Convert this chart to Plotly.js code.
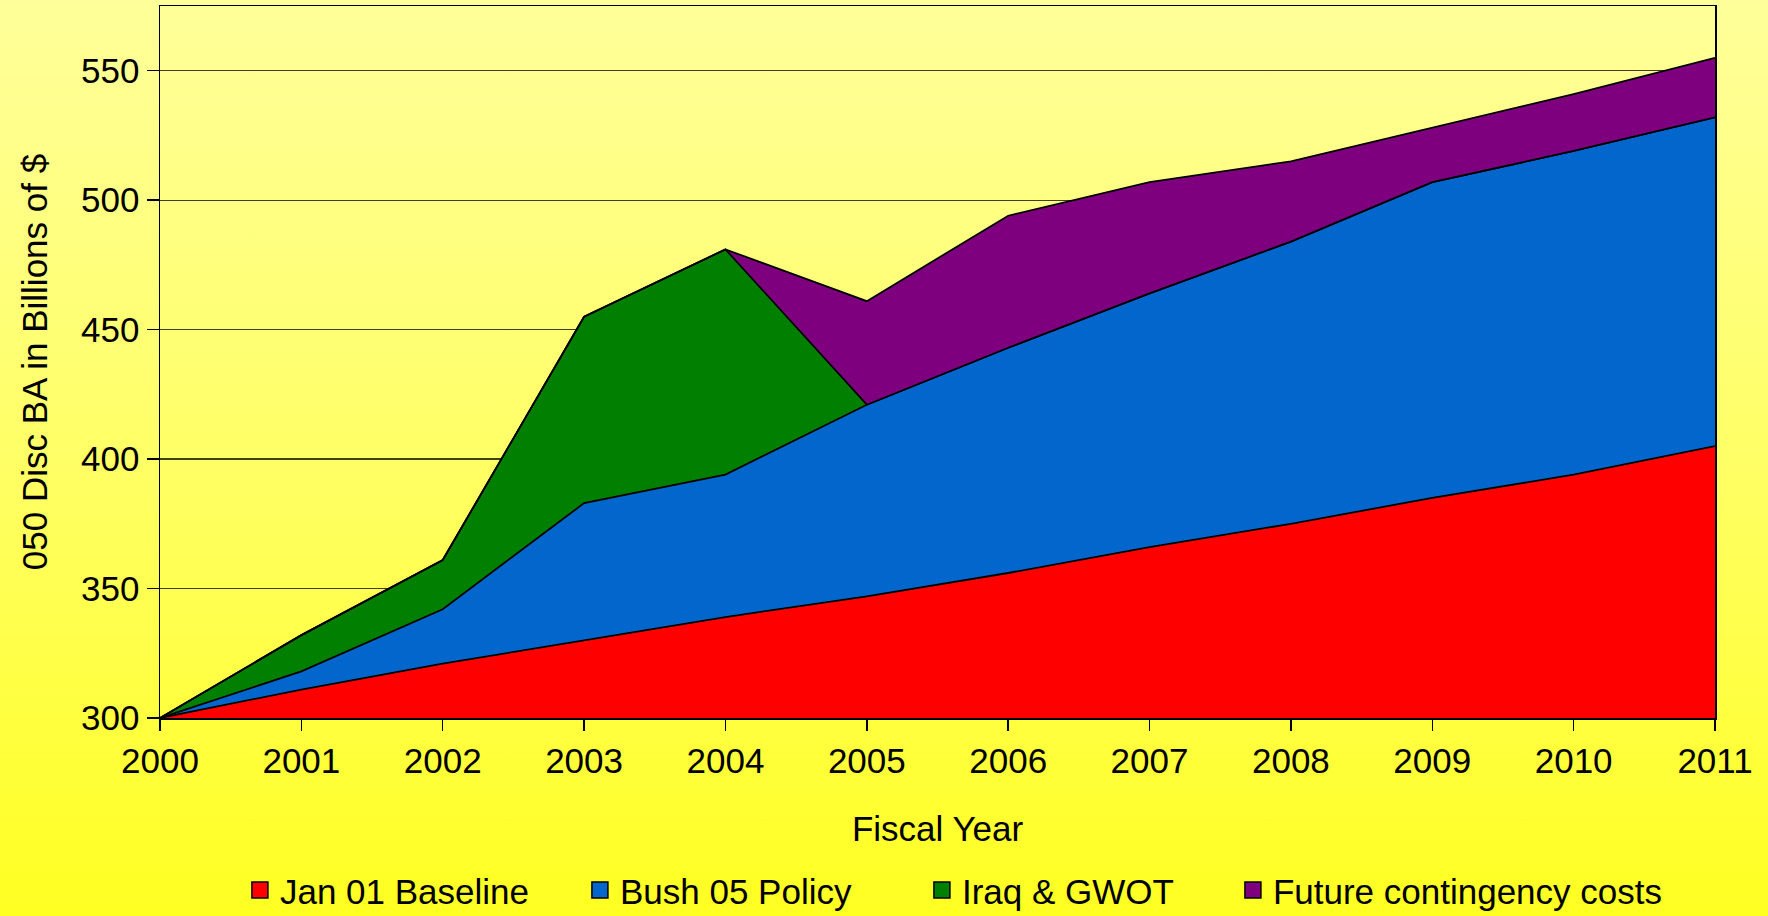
<!DOCTYPE html>
<html>
<head>
<meta charset="utf-8">
<script src="https://cdn.plot.ly/plotly-3.0.1.min.js"></script>
<style>
  html, body { margin: 0; padding: 0; }
  body { width: 1768px; height: 916px; background: linear-gradient(to bottom, #FFFF9A 0%, #FFFF66 50%, #FFFF22 100%); overflow: hidden; }
  #chart { width: 1768px; height: 916px; }
</style>
</head>
<body>
<div id="chart"></div>
<script>
// Fiscal years
const years = [2000, 2001, 2002, 2003, 2004, 2005, 2006, 2007, 2008, 2009, 2010, 2011];
// Series values (billions of $), stacked increments
const baseline    = [300, 311, 321, 330, 339, 347, 356, 366, 375, 385, 394, 405];
const bushPolicy  = [0,   7,   21,  53,  55,  74,  87,  98,  109, 122, 125, 127];
const iraqGwot    = [0,   14,  19,  72,  87,  0,   0,   0,   0,   0,   0,   0];
const futureCont  = [0,   0,   0,   0,   0,   40,  51,  43,  31,  21,  22,  23];
const seriesNames = ['Jan 01 Baseline', 'Bush 05 Policy', 'Iraq & GWOT', 'Future contingency costs'];
const seriesColors = ['#FF0000', '#0366CC', '#007F00', '#7F007F'];
const yTicks = [300, 350, 400, 450, 500, 550];

const seriesData = [baseline, bushPolicy, iraqGwot, futureCont];
const font = 'Liberation Sans, Arial, sans-serif';
const legendWidths = [295, 297, 266, 0];

const traces = [];
seriesData.forEach((vals, i) => {
  traces.push({
    type: 'scatter', mode: 'lines', x: years, y: vals,
    stackgroup: 'one', name: seriesNames[i], legendgroup: 'g' + i,
    showlegend: false, fillcolor: seriesColors[i],
    line: { color: '#000000', width: 1.8 }, hoverinfo: 'x+y+name'
  });
});
seriesData.forEach((vals, i) => {
  const t = {
    type: 'scatter', mode: 'markers', x: [null], y: [null],
    name: seriesNames[i], legendgroup: 'g' + i, showlegend: true,
    marker: { symbol: 'square', size: 16, color: seriesColors[i], line: { color: '#000000', width: 1.5 } }
  };
  if (legendWidths[i]) t.legendwidth = legendWidths[i];
  traces.push(t);
});

const layout = {
  width: 1768, height: 916,
  paper_bgcolor: 'rgba(0,0,0,0)', plot_bgcolor: 'rgba(0,0,0,0)',
  margin: { l: 160, r: 53, t: 6, b: 198 },
  font: { family: font, size: 35, color: '#000000' },
  showlegend: true,
  legend: {
    orientation: 'h', xref: 'container', yref: 'container',
    x: 0.1357, xanchor: 'left', y: 0.028, yanchor: 'middle',
    font: { family: font, size: 35, color: '#000000' },
    bgcolor: 'rgba(0,0,0,0)', itemwidth: 30, traceorder: 'normal'
  },
  xaxis: {
    type: 'linear', range: [2000, 2011], tickmode: 'array', tickvals: years, ticktext: years.map(String),
    showgrid: false, zeroline: false, showline: true, linecolor: '#000000', linewidth: 1.5, mirror: true,
    ticks: 'outside', ticklen: 11, tickcolor: '#000000', tickwidth: 1.5,
    tickfont: { family: font, size: 35 },
    title: { text: 'Fiscal Year', font: { family: font, size: 35 }, standoff: 38 }
  },
  yaxis: {
    range: [300, 575], tickmode: 'array', tickvals: yTicks, ticktext: yTicks.map(String),
    showgrid: true, gridcolor: 'rgba(0,0,0,0.75)', gridwidth: 1.3, zeroline: false,
    showline: true, linecolor: '#000000', linewidth: 1.5, mirror: true,
    ticks: 'outside', ticklen: 12, tickcolor: '#000000', tickwidth: 1.5,
    tickfont: { family: font, size: 35 },
    title: { text: '050 Disc BA in Billions of $', font: { family: font, size: 35 }, standoff: 23 }
  }
};

Plotly.newPlot('chart', traces, layout, { displayModeBar: false, staticPlot: true });
</script>
</body>
</html>
